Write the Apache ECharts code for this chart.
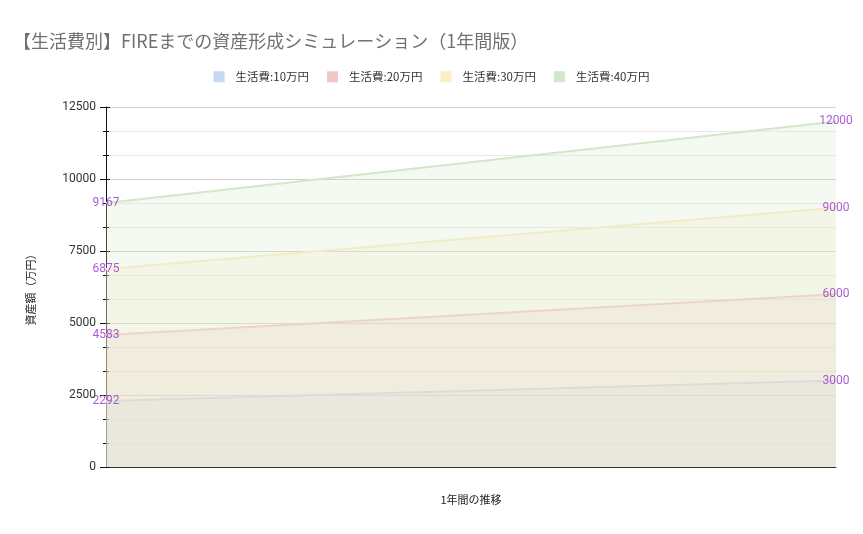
<!DOCTYPE html>
<html><head><meta charset="utf-8">
<script src="https://cdn.jsdelivr.net/npm/echarts@6/dist/echarts.min.js"></script>
<style>html,body{margin:0;padding:0;background:#fff}#c{width:863px;height:534px}</style>
</head><body><div id="c"></div>
<script>
const categories = ['開始', '1年後'];
const seriesNames = ['生活費:10万円', '生活費:20万円', '生活費:30万円', '生活費:40万円'];
const s10 = [2292, 3000];
const s20 = [4583, 6000];
const s30 = [6875, 9000];
const s40 = [9167, 12000];
const seriesValues = [s10, s20, s30, s40];
const colors = ['#c6d8f2', '#f0c6c6', '#fcedc2', '#d4e6cc'];

const chart = echarts.init(document.getElementById('c'));
const font = "'Noto Sans CJK JP', 'Noto Sans', sans-serif";
const lineSeries = seriesValues.map((vals, i) => ({
  name: seriesNames[i], type: 'line', data: vals, yAxisIndex: 0,
  symbol: 'none', showSymbol: false,
  itemStyle: {color: colors[i]},
  lineStyle: {color: colors[i], width: 2},
  areaStyle: {color: colors[i], opacity: 0.25},
  emphasis: {disabled: true},
  z: 2 + i
}));
const labelSeries = seriesValues.map((vals, i) => ({
  name: 'label' + i, type: 'scatter', data: vals,
  symbolSize: 0.1, itemStyle: {color: 'transparent'},
  label: {show: true, position: 'inside', color: '#9933cc', fontSize: 12, fontFamily: 'Roboto, sans-serif'},
  emphasis: {disabled: true}, silent: true,
  z: 20
}));
chart.setOption({
  animation: false,
  textStyle: {fontFamily: font},
  title: {
    text: '【生活費別】FIREまでの資産形成シミュレーション（1年間版）',
    left: 8, top: 27,
    textStyle: {fontFamily: font, fontSize: 18, fontWeight: 'normal', color: '#707070'}
  },
  legend: {
    top: 66, left: 'center',
    itemWidth: 11, itemHeight: 11, itemGap: 18,
    icon: 'rect',
    textStyle: {fontFamily: font, fontSize: 11.5, color: '#333', padding: [0, 0, 0, 6]},
    data: seriesNames
  },
  grid: {left: 106, right: 27, top: 107, bottom: 67},
  xAxis: {
    type: 'category', data: categories, boundaryGap: false,
    name: '1年間の推移', nameLocation: 'middle', nameGap: 27,
    nameTextStyle: {fontFamily: font, fontSize: 11, color: '#222'},
    axisLine: {lineStyle: {color: '#333', width: 1}},
    axisTick: {show: false}, axisLabel: {show: false}
  },
  yAxis: [{
    type: 'value', min: 0, max: 12500, interval: 2500,
    name: '資産額（万円）', nameLocation: 'middle', nameGap: 70,
    nameTextStyle: {fontFamily: font, fontSize: 11, color: '#222'},
    axisLine: {show: true, lineStyle: {color: '#111'}},
    axisTick: {show: true, length: 6, lineStyle: {color: '#111'}},
    minorTick: {show: true, splitNumber: 3, length: 3, lineStyle: {color: '#111'}},
    axisLabel: {fontFamily: 'Roboto, sans-serif', fontSize: 12, color: '#333', margin: 10,
      formatter: v => String(v)},
    splitLine: {lineStyle: {color: '#d0d0d0'}},
    minorSplitLine: {show: true, lineStyle: {color: '#e8e8e8'}}
  }, {
    type: 'value', min: 0, max: 12500, interval: 2500, position: 'left', offset: 0,
    axisLine: {show: true, lineStyle: {color: 'rgba(0,0,0,0)'}},
    axisTick: {show: true, inside: true, length: 4, lineStyle: {color: '#111'}},
    minorTick: {show: true, splitNumber: 3, length: 3, lineStyle: {color: '#111'}},
    axisLabel: {show: false}, splitLine: {show: false}, minorSplitLine: {show: false}
  }],
  series: lineSeries.concat(labelSeries)
});
</script></body></html>
